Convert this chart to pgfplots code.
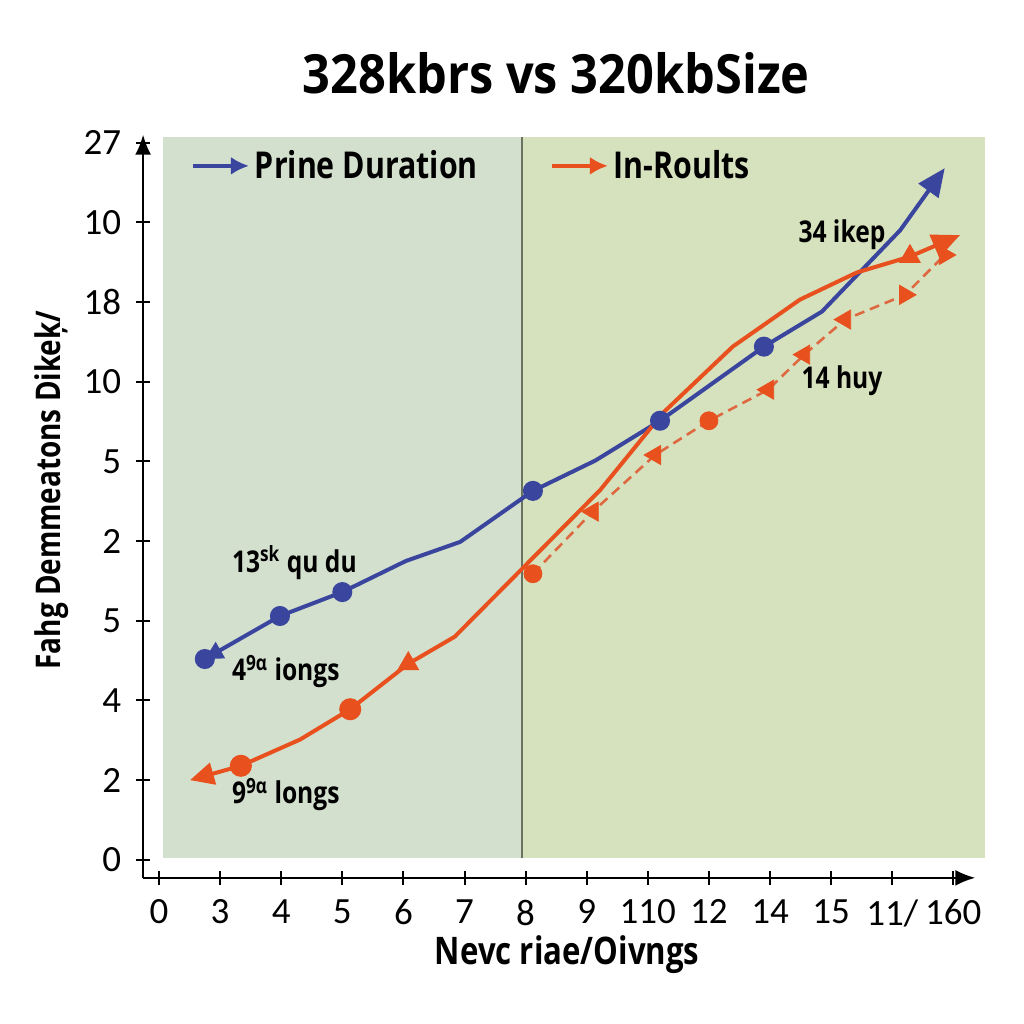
\documentclass[border=0pt]{standalone}
\usepackage{fontspec}
\setmainfont{Carlito}
\newfontfamily\osb[FakeStretch=0.82]{Open Sans}
\usepackage{pgfplots}
\pgfplotsset{compat=1.18}
\usetikzlibrary{arrows.meta}

\definecolor{bluel}{RGB}{58,70,158}
\definecolor{oran}{RGB}{232,80,30}
\definecolor{orandash}{RGB}{222,105,65}
\definecolor{bgleft}{RGB}{212,224,206}
\definecolor{bgright}{RGB}{214,225,190}
\definecolor{divider}{RGB}{105,115,95}

\begin{document}
\begin{tikzpicture}
\begin{axis}[
    scale only axis,
    width=416pt, height=371.5pt,
    xmin=-0.26, xmax=13.36,
    ymin=-0.226, ymax=9.1,
    clip=false,
    axis lines=left,
    axis line style={line width=1.1pt, -{Latex[length=10pt,width=8pt]}},
    tick align=center,
    major tick length=7pt,
    tick style={line width=1pt, black},
    xtick={0,...,13},
    xticklabels={0,3,4,5,6,7,8,9,110,12,14,15,11/,160},
    ytick={0,...,9},
    yticklabels={0,2,4,5,2,5,10,18,10,27},
    /pgf/number format/assume math mode=true,
    ticklabel style={font=\fontsize{18.5}{20}\selectfont},
    xticklabel style={yshift=-4pt},
    yticklabel style={xshift=-4pt},
    legend columns=2,
    legend style={
        at={(0.057,0.958)}, anchor=west,
        draw=none, fill=none, inner sep=0pt,
        font=\osb\bfseries\fontsize{18.5}{20}\selectfont,
        /tikz/every even column/.append style={column sep=34pt}
    },
    legend image code/.code={
        \draw[#1, -{Latex[length=9pt,width=9pt]}] (0pt,0pt) -- (28pt,0pt);
    },
]

% shaded background panels
\fill[bgleft] (axis cs:0.065,0.025) rectangle (axis cs:5.94,9.07);
\fill[bgright] (axis cs:5.94,0.025) rectangle (axis cs:13.52,9.07);
\draw[divider, line width=0.8pt] (axis cs:5.94,0.025) -- (axis cs:5.94,9.07);

% Prine Duration
\addplot[bluel, line width=2pt, mark=*, mark size=4pt,
    mark indices={1,2,3,6,8,9}, mark options={solid},
    {Triangle[length=9pt,width=9pt]}-{Triangle[length=14pt,width=12pt]}]
    coordinates {(0.75,2.52) (1.98,3.06) (3.0,3.36) (4.04,3.75) (4.93,3.99)
    (6.12,4.63) (7.14,5.01) (8.2,5.51) (9.9,6.44) (10.85,6.88) (12.13,7.9) (12.86,8.68)};
\addlegendentry{Prine Duration}

% In-Roults
\addplot[oran, line width=2pt, mark=*, mark size=4.5pt,
    mark indices={2,4}, mark options={solid},
    {Triangle[length=12pt,width=11pt]}-{Triangle[length=14pt,width=12pt]}]
    coordinates {(0.507,1.0) (1.34,1.18) (2.31,1.51) (3.13,1.89) (4.08,2.46) (4.84,2.80)
    (7.22,4.64) (8.25,5.61) (9.39,6.44) (10.49,7.03) (11.42,7.37) (12.29,7.57) (13.11,7.84)};
\addlegendentry{In-Roults}

\addplot[oran, only marks, mark=triangle*, mark size=6pt,
    mark options={rotate=120}, forget plot]
    coordinates {(4.08,2.46) (12.29,7.57)};

% dashed series
\addplot[orandash, line width=1.3pt, dash pattern=on 5pt off 3pt, forget plot]
    coordinates {(6.12,3.59) (7.10,4.37) (8.12,5.08) (9.0,5.51) (9.97,5.90)
    (10.56,6.34) (11.23,6.78) (12.21,7.09) (12.86,7.59)};
\addplot[oran, only marks, mark=*, mark size=4.5pt, forget plot]
    coordinates {(6.12,3.59) (9.0,5.51)};
\addplot[oran, only marks, mark=triangle*, mark size=5.5pt,
    mark options={rotate=90}, forget plot]
    coordinates {(7.10,4.37) (8.12,5.08) (9.97,5.90) (10.56,6.34) (11.23,6.78)};
\addplot[oran, only marks, mark=triangle*, mark size=5.5pt,
    mark options={rotate=-90}, forget plot]
    coordinates {(12.21,7.09) (12.86,7.59)};

% annotations
\begin{scope}[every node/.style={font=\osb\bfseries\fontsize{15}{17}\selectfont, anchor=west, inner sep=0pt}]
\node at (axis cs:1.19,3.73) {13\textsuperscript{sk} qu du};
\node at (axis cs:1.19,2.36) {4\textsuperscript{9α} iongs};
\node at (axis cs:1.19,0.82) {9\textsuperscript{9α} longs};
\node at (axis cs:10.46,7.85) {34 ikep};
\node at (axis cs:10.51,6.01) {14 huy};
\end{scope}

% title and axis labels
\node[font=\osb\bfseries\fontsize{27}{32}\selectfont, anchor=base, xscale=1.1]
    at (axis cs:6.5,9.62) {328kbrs vs 320kbSize};
\node[font=\osb\bfseries\fontsize{19}{22}\selectfont]
    at (axis cs:6.68,-1.19) {Nevc riae/Oivngs};
\node[font=\osb\bfseries\fontsize{17}{20}\selectfont, rotate=90]
    at (axis cs:-1.75,4.64) {Fahg Demmeatons Dikeķ/};

% page extent
\path (axis cs:-2.602,10.79) rectangle (axis cs:14.157,-2.058);
\end{axis}
\end{tikzpicture}
\end{document}
